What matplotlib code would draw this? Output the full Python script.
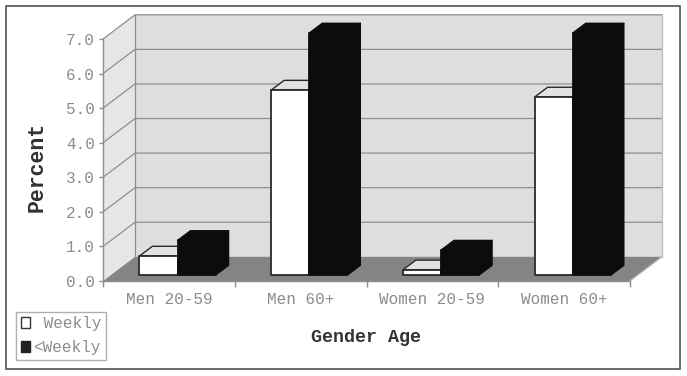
import matplotlib
matplotlib.use("Agg")
import matplotlib.pyplot as plt
from matplotlib.patches import Polygon, Patch, Rectangle

# values
categories = ["Men 20-59", "Men 60+", "Women 20-59", "Women 60+"]
weekly = [0.55, 5.35, 0.15, 5.15]
less_weekly = [1.0, 7.0, 0.72, 7.0]
y_ticks = [0, 1, 2, 3, 4, 5, 6, 7]

W, H = 687, 376
GRAY = "#8e8e8e"
TEXT = "#8c8c8c"
FONT = ["Liberation Mono", "DejaVu Sans Mono"]

fig = plt.figure(figsize=(W / 100, H / 100), dpi=100)
fig.patches.append(Rectangle((6 / W, 1 - 369 / H), 674 / W, 363 / H, transform=fig.transFigure,
                             fill=False, ec="#444444", lw=1.1))

ax = fig.add_axes([103 / W, 1 - 281 / H, 527 / W, 242 / H])
ax.set_xlim(0, 4)
ax.set_ylim(0, 7)
ax.patch.set_visible(False)

# depth of the box and of the bars, in data units
dx, dy = 0.243, 0.70
bar_w = 0.289
bar_start = 0.277
by = 0.174
bdx, bdy = 0.098, 0.28


def poly(pts, fc, ec="none", lw=0.0, z=1):
    ax.add_patch(Polygon(pts, closed=True, fc=fc, ec=ec, lw=lw, zorder=z, clip_on=False, joinstyle="round"))


# walls and floor
poly([(dx, dy), (4 + dx, dy), (4 + dx, 7 + dy), (dx, 7 + dy)], "#dedede", z=1)
poly([(0, 0), (dx, dy), (dx, 7 + dy), (0, 7)], "#e6e6e6", z=1)
poly([(0, 0), (4, 0), (4 + dx, dy), (dx, dy)], "#848484", z=2)

for v in y_ticks[1:]:
    ax.plot([0, dx, 4 + dx], [v, v + dy, v + dy], color=GRAY, lw=0.9, zorder=3, clip_on=False)
ax.plot([dx, dx], [dy, 7 + dy], color=GRAY, lw=0.9, zorder=3, clip_on=False)
ax.plot([4 + dx, 4 + dx], [dy, 7 + dy], color="#bdbdbd", lw=0.9, zorder=3, clip_on=False)
ax.plot([4, 4 + dx], [0, dy], color="#bdbdbd", lw=0.9, zorder=3, clip_on=False)


def bar3d(x, val, front, top, side, edge, z):
    x0, x1 = x, x + bar_w
    y0, y1 = by, by + val
    poly([(x1, y0), (x1 + bdx, y0 + bdy), (x1 + bdx, y1 + bdy), (x1, y1)], side, edge, 1.0, z)
    poly([(x0, y1), (x1, y1), (x1 + bdx, y1 + bdy), (x0 + bdx, y1 + bdy)], top, edge, 1.0, z)
    poly([(x0, y0), (x1, y0), (x1, y1), (x0, y1)], front, edge, 1.3, z + 0.1)


for i in range(len(categories)):
    bar3d(i + bar_start, weekly[i], "white", "#e2e2e2", "#e2e2e2", "#2a2a2a", 4 + i)
    bar3d(i + bar_start + bar_w, less_weekly[i], "#0c0c0c", "#0c0c0c", "#0c0c0c", "#0c0c0c", 4.5 + i)

# axes and labels
for s in ["top", "right"]:
    ax.spines[s].set_visible(False)
for s in ["left", "bottom"]:
    ax.spines[s].set_color(GRAY)
    ax.spines[s].set_linewidth(1.0)
    ax.spines[s].set_zorder(3)

ax.set_yticks(y_ticks)
ax.set_yticklabels([f"{v:.1f}" for v in y_ticks], family=FONT, fontsize=11.5, color=TEXT)
ax.set_xticks(range(5))
ax.set_xticklabels([])
ax.set_xticks([i + 0.5 for i in range(4)], minor=True)
ax.set_xticklabels(categories, minor=True, family=FONT, fontsize=11.5, color=TEXT)
ax.tick_params(axis="x", which="minor", length=0, pad=8)
ax.tick_params(axis="x", which="major", length=4, color=GRAY, width=1)
ax.tick_params(axis="y", length=3, color=GRAY, width=1, pad=3)

fig.text(37 / W, 1 - 167 / H, "Percent", rotation=90, ha="center", va="center", family=FONT,
         fontsize=15.5, fontweight="bold", color="#333333")
fig.text(366 / W, 1 - 337 / H, "Gender Age", ha="center", va="center", family=FONT,
         fontsize=13.2, fontweight="bold", color="#333333")

handles = [Patch(fc="white", ec="#333333", lw=1.0, label=" Weekly"),
           Patch(fc="#222222", ec="#222222", lw=1.0, label="<Weekly")]
ax.legend(handles=handles, loc="lower left", bbox_to_anchor=(16 / W, 1 - 360 / H),
          bbox_transform=fig.transFigure, borderaxespad=0, fancybox=False, framealpha=1,
          edgecolor="#b0b0b0", handlelength=0.6, handleheight=0.7, handletextpad=0.2,
          borderpad=0.3, labelspacing=0.55, labelcolor=TEXT, prop={"family": FONT, "size": 11.5})

fig.savefig("out.png", dpi=100)
